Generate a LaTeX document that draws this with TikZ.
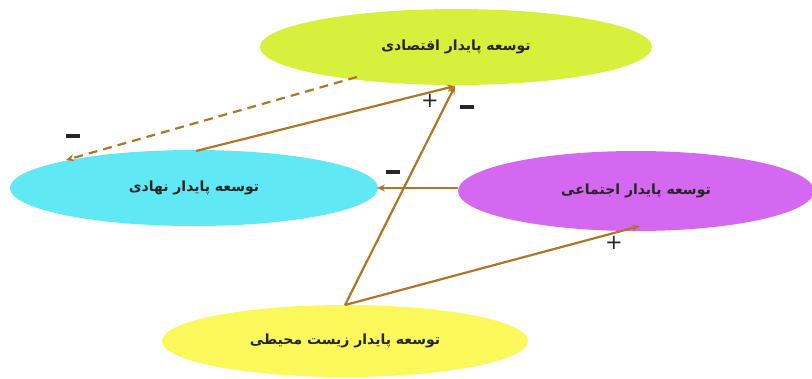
\documentclass[tikz,border=0pt]{standalone}
\usepackage{fontspec}
\setmainfont{DejaVu Sans}
\newfontfamily\arabicfont[Script=Arabic]{DejaVu Sans}
\TeXXeTstate=1
\usetikzlibrary{shapes.geometric,arrows.meta}
\definecolor{econ}{RGB}{214,240,60}
\definecolor{inst}{RGB}{96,232,244}
\definecolor{soc}{RGB}{212,104,240}
\definecolor{env}{RGB}{250,248,90}
\definecolor{arr}{RGB}{176,118,40}
\tikzset{
  goal/.style={ellipse, inner sep=0pt, font=\arabicfont\bfseries\fontsize{14}{16}\selectfont, text=black!85},
  link/.style={draw=arr, line width=2.2pt, -{Stealth[length=8pt,width=7pt]}},
  sign/.style={font=\fontsize{21}{21}\selectfont, inner sep=0pt, text=black!85},
}
\newcommand{\minusbar}{\rule{14pt}{4.5pt}}
\begin{document}
\begin{tikzpicture}[x=1pt,y=-1pt]
\useasboundingbox (0,0) rectangle (812,378);
\node[goal, fill=econ, minimum width=392pt, minimum height=76pt] (econ) at (456,47) {\beginR توسعه پایدار اقتصادی\endR};
\node[goal, fill=inst, minimum width=368pt, minimum height=76pt] (inst) at (194,188) {\beginR توسعه پایدار نهادی\endR};
\node[goal, fill=soc, minimum width=356pt, minimum height=80pt] (soc) at (636,191) {\beginR توسعه پایدار اجتماعی\endR};
\node[goal, fill=env, minimum width=366pt, minimum height=72pt] (env) at (345,341) {\beginR توسعه پایدار زیست محیطی\endR};
\coordinate (eb) at (455,86);
\coordinate (dashs) at (357,77);
\coordinate (dashe) at (66,160);
\coordinate (it) at (196,151);
\coordinate (et) at (345,305);
\coordinate (sb) at (640,226);
\coordinate (sl) at (458,188);
\coordinate (ir) at (377,188);
\draw[link, dash pattern=on 9pt off 6pt] (dashs) -- (dashe);
\draw[link] (it) -- (eb);
\draw[link] (et) -- (eb);
\draw[link] (sl) -- (ir);
\draw[link] (et) -- (sb);
\node[sign] (m1) at (73,136) {\minusbar};
\node[sign] (p1) at (430,101) {+};
\node[sign] (m2) at (467,107) {\minusbar};
\node[sign] (m3) at (393,172) {\minusbar};
\node[sign] (p2) at (614,243) {+};
\end{tikzpicture}
\end{document}
